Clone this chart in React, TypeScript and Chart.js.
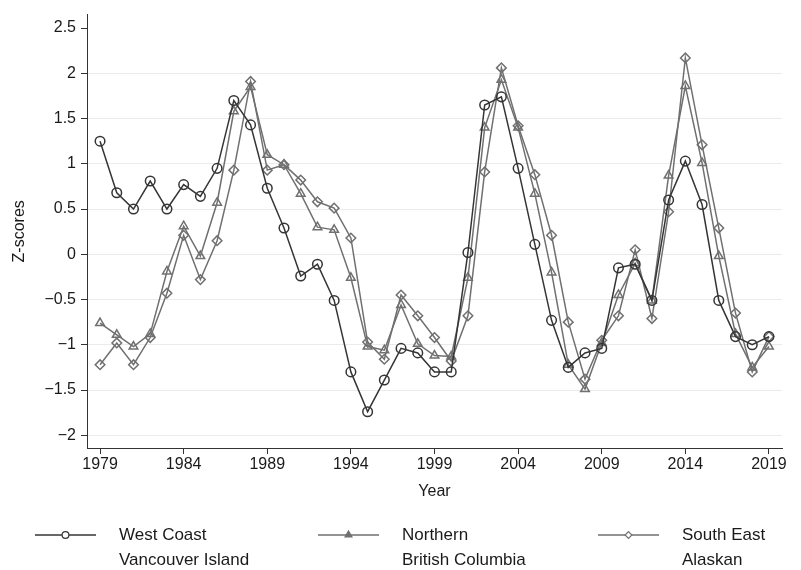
import React, { useEffect, useRef } from 'react';
import { Chart, registerables } from 'chart.js';

Chart.register(...registerables);

const years = [
  1979, 1980, 1981, 1982, 1983, 1984, 1985, 1986, 1987, 1988,
  1989, 1990, 1991, 1992, 1993, 1994, 1995, 1996, 1997, 1998,
  1999, 2000, 2001, 2002, 2003, 2004, 2005, 2006, 2007, 2008,
  2009, 2010, 2011, 2012, 2013, 2014, 2015, 2016, 2017, 2018, 2019,
];

const westCoast = [
  1.25, 0.68, 0.5, 0.81, 0.5, 0.77, 0.64, 0.95, 1.7, 1.43,
  0.73, 0.29, -0.24, -0.11, -0.51, -1.3, -1.74, -1.39, -1.04, -1.09,
  -1.3, -1.3, 0.02, 1.65, 1.74, 0.95, 0.11, -0.73, -1.25, -1.09,
  -1.04, -0.15, -0.11, -0.51, 0.6, 1.03, 0.55, -0.51, -0.91, -1.0, -0.91,
];

const northern = [
  -0.76, -0.89, -1.02, -0.88, -0.19, 0.31, -0.02, 0.57, 1.58, 1.85,
  1.1, 0.99, 0.67, 0.3, 0.27, -0.26, -1.02, -1.06, -0.56, -0.99,
  -1.12, -1.13, -0.26, 1.4, 1.93, 1.4, 0.67, -0.2, -1.22, -1.49,
  -0.98, -0.45, -0.1, -0.51, 0.87, 1.86, 1.01, -0.02, -0.88, -1.25, -1.02,
];

const southEast = [
  -1.22, -0.98, -1.22, -0.92, -0.43, 0.21, -0.28, 0.15, 0.93, 1.91,
  0.93, 0.99, 0.82, 0.58, 0.51, 0.18, -0.97, -1.16, -0.45, -0.68,
  -0.92, -1.18, -0.68, 0.91, 2.06, 1.42, 0.88, 0.21, -0.75, -1.38,
  -0.95, -0.68, 0.05, -0.71, 0.47, 2.17, 1.21, 0.29, -0.65, -1.3, -0.91,
];

const xTicks = [1979, 1984, 1989, 1994, 1999, 2004, 2009, 2014, 2019];
const yTicks = [-2, -1.5, -1, -0.5, 0, 0.5, 1, 1.5, 2, 2.5];

const seriesLabels = [
  ['West Coast', 'Vancouver Island'],
  ['Northern', 'British Columbia'],
  ['South East', 'Alaskan'],
];

const FONT = '"Liberation Sans", Arial, Helvetica, sans-serif';
const DARK = '#353535';
const GREY = '#707070';
const TEXT = '#1a1a1a';

function fmtY(v: number): string {
  const s = String(Math.abs(v));
  return v < 0 ? '\u2212' + s : s;
}

function markerPath(ctx: CanvasRenderingContext2D, style: string, x: number, y: number, r: number) {
  ctx.beginPath();
  if (style === 'circle') {
    ctx.arc(x, y, r, 0, Math.PI * 2);
  } else if (style === 'triangle') {
    ctx.moveTo(x, y - r);
    ctx.lineTo(x + r * 0.866, y + r * 0.5);
    ctx.lineTo(x - r * 0.866, y + r * 0.5);
    ctx.closePath();
  } else {
    ctx.moveTo(x, y - r);
    ctx.lineTo(x + r, y);
    ctx.lineTo(x, y + r);
    ctx.lineTo(x - r, y);
    ctx.closePath();
  }
}

const annotationsPlugin = {
  id: 'annotations',
  afterDraw(chart: any) {
    const ctx: CanvasRenderingContext2D = chart.ctx;
    const area = chart.chartArea;
    ctx.save();
    ctx.fillStyle = TEXT;
    ctx.font = `16px ${FONT}`;
    // y title
    ctx.save();
    ctx.translate(20, (area.top + area.bottom) / 2);
    ctx.rotate(-Math.PI / 2);
    ctx.textAlign = 'center';
    ctx.textBaseline = 'middle';
    ctx.fillText('Z-scores', 0, 0);
    ctx.restore();
    // x title
    ctx.textAlign = 'center';
    ctx.textBaseline = 'middle';
    ctx.fillText('Year', (area.left + area.right) / 2, 492);

    // legend
    const entries = [
      { x: 35, color: DARK, style: 'circle', fill: false },
      { x: 318, color: GREY, style: 'triangle', fill: true },
      { x: 598, color: GREY, style: 'diamond', fill: false },
    ];
    const row1 = 535;
    const row2 = 560;
    entries.forEach((e, i) => {
      const lineLen = 61;
      ctx.strokeStyle = e.color;
      ctx.lineWidth = 1.5;
      ctx.beginPath();
      ctx.moveTo(e.x, row1);
      ctx.lineTo(e.x + lineLen, row1);
      ctx.stroke();
      const mx = e.x + lineLen / 2;
      markerPath(ctx, e.style, mx, row1, e.style === 'triangle' ? 4 : 3.4);
      ctx.fillStyle = e.fill ? e.color : '#ffffff';
      ctx.fill();
      ctx.lineWidth = 1.2;
      ctx.stroke();
      ctx.fillStyle = TEXT;
      ctx.textAlign = 'left';
      ctx.textBaseline = 'middle';
      ctx.font = `17px ${FONT}`;
      ctx.fillText(seriesLabels[i][0], e.x + 84, row1);
      ctx.fillText(seriesLabels[i][1], e.x + 84, row2);
    });
    ctx.restore();
  },
};

function makeData(vals: number[]) {
  return years.map((x, i) => ({ x, y: vals[i] }));
}

export default function App() {
  const ref = useRef<HTMLCanvasElement | null>(null);

  useEffect(() => {
    document.body.style.margin = '0';
    const canvas = ref.current;
    if (!canvas) return;
    const chart = new Chart(canvas, {
      type: 'line',
      data: {
        datasets: [
          {
            label: 'West Coast Vancouver Island',
            data: makeData(westCoast),
            borderColor: DARK,
            borderWidth: 1.5,
            pointStyle: 'circle',
            pointRadius: 4.8,
            pointBorderWidth: 1.5,
            pointBorderColor: DARK,
            pointBackgroundColor: 'rgba(0,0,0,0)',
            tension: 0,
            order: 0,
          },
          {
            label: 'Northern British Columbia',
            data: makeData(northern),
            borderColor: GREY,
            borderWidth: 1.5,
            pointStyle: 'triangle',
            pointRadius: 5,
            pointBorderWidth: 1.5,
            pointBorderColor: GREY,
            pointBackgroundColor: 'rgba(0,0,0,0)',
            tension: 0,
            order: 1,
          },
          {
            label: 'South East Alaskan',
            data: makeData(southEast),
            borderColor: GREY,
            borderWidth: 1.5,
            pointStyle: 'rectRot',
            pointRadius: 4.8,
            pointBorderWidth: 1.5,
            pointBorderColor: GREY,
            pointBackgroundColor: 'rgba(0,0,0,0)',
            tension: 0,
            order: 2,
          },
        ],
      },
      options: {
        animation: false,
        responsive: false,
        maintainAspectRatio: false,
        layout: { padding: { top: 7, right: 19, left: 0, bottom: 0 } },
        plugins: {
          legend: { display: false },
          tooltip: { enabled: false },
        },
        scales: {
          x: {
            type: 'linear',
            min: 1978.22,
            max: 2019.78,
            afterBuildTicks: (s: any) => {
              s.ticks = xTicks.map((v) => ({ value: v }));
            },
            afterFit: (s: any) => {
              s.height = 122;
            },
            grid: {
              drawOnChartArea: false,
              drawTicks: true,
              tickLength: 6,
              tickColor: '#333333',
              lineWidth: 1,
            },
            border: { display: true, color: '#333333', width: 1 },
            ticks: {
              color: TEXT,
              font: { family: FONT, size: 16 },
              padding: 1,
              maxRotation: 0,
              autoSkip: false,
              callback: (v: any) => String(v),
            },
          },
          y: {
            type: 'linear',
            min: -2.141,
            max: 2.649,
            afterBuildTicks: (s: any) => {
              s.ticks = yTicks.map((v) => ({ value: v }));
            },
            afterFit: (s: any) => {
              s.width = 87;
            },
            grid: {
              color: (c: any) => (c.tick && c.tick.value === 2.5 ? 'rgba(0,0,0,0)' : '#ebebeb'),
              lineWidth: 1,
              drawTicks: true,
              tickLength: 6,
              tickColor: '#333333',
            },
            border: { display: true, color: '#333333', width: 1 },
            ticks: {
              color: TEXT,
              font: { family: FONT, size: 16 },
              padding: 5,
              autoSkip: false,
              callback: (v: any) => fmtY(Number(v)),
            },
          },
        },
      },
      plugins: [annotationsPlugin],
    });
    return () => chart.destroy();
  }, []);

  return (
    <div style={{ width: 801, height: 570 }}>
      <canvas ref={ref} width={801} height={570} style={{ display: 'block', width: 801, height: 570 }} />
    </div>
  );
}
